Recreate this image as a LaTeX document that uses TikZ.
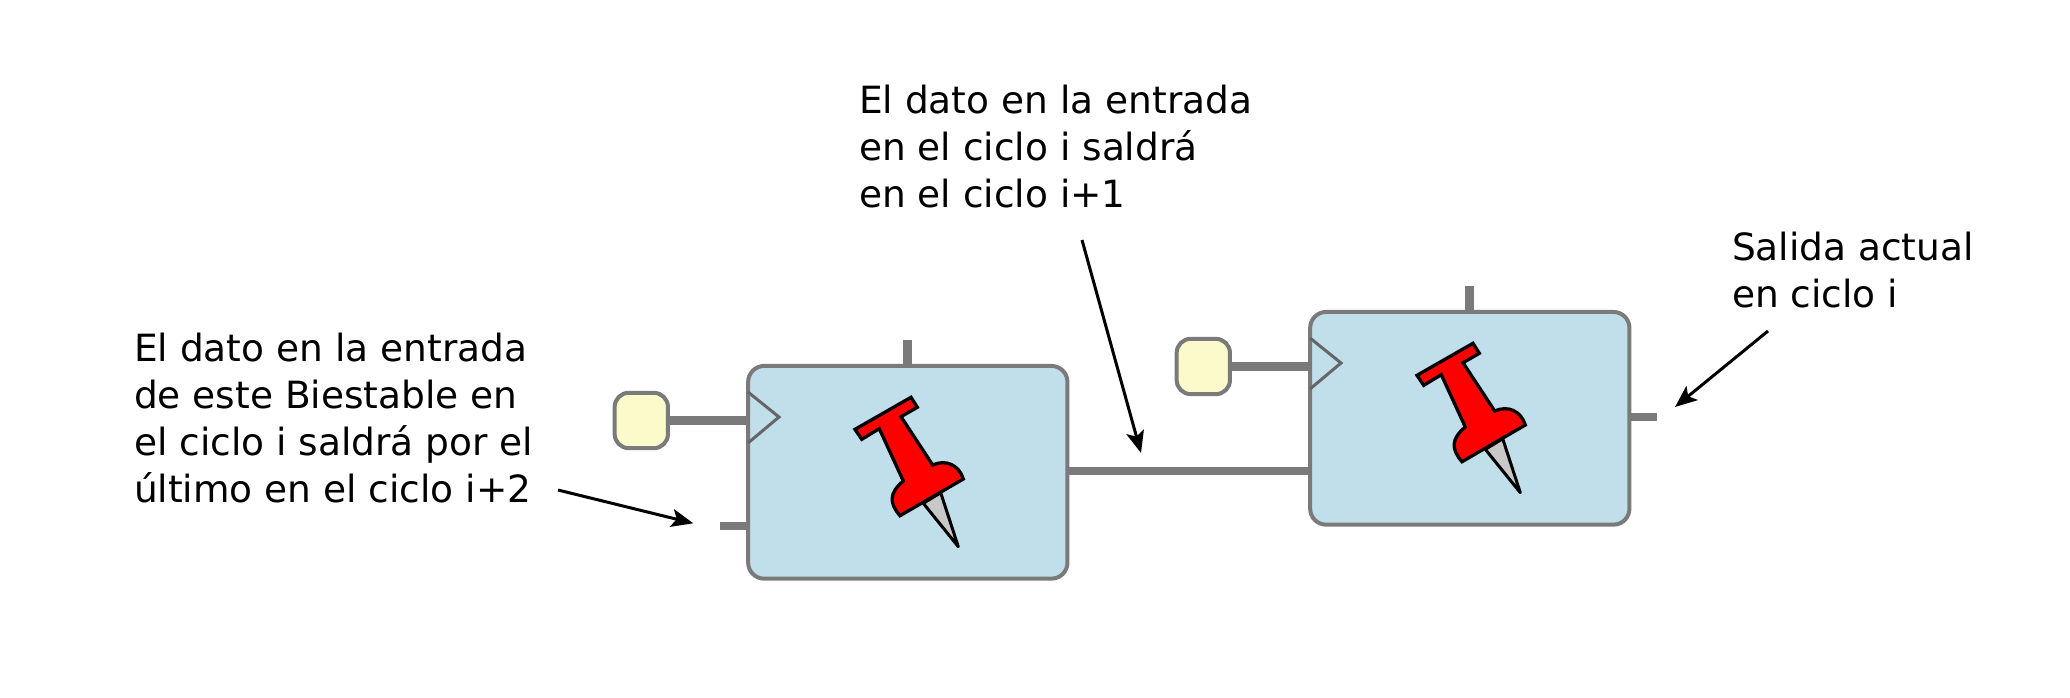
\documentclass[tikz,border=0pt]{standalone}
\usepackage{fontspec}
\setmainfont{DejaVu Sans}
\usetikzlibrary{arrows.meta}
\definecolor{wiregray}{HTML}{7A7A7A}
\definecolor{boxblue}{HTML}{C1DFEB}
\definecolor{padyellow}{HTML}{FBFACA}
\definecolor{pinred}{HTML}{FF0000}
\definecolor{needlegray}{HTML}{C8C8C8}
\definecolor{clockgray}{HTML}{666666}
\tikzset{
  regbox/.style={draw=wiregray,fill=boxblue,line width=4pt,rounded corners=16pt,minimum width=319.3pt,minimum height=212.7pt,outer sep=0pt,inner sep=0pt},
  padbox/.style={draw=wiregray,fill=padyellow,line width=4pt,rounded corners=14pt,minimum width=53.3pt,minimum height=55.3pt,outer sep=0pt,inner sep=0pt},
  wire/.style={draw=wiregray,line width=8.7pt},
  clockmark/.style={draw=clockgray,line width=3pt,line join=miter},
  note/.style={align=left,anchor=north west,inner sep=0pt,outer sep=0pt,font=\fontsize{37.5pt}{47pt}\selectfont},
  callout/.style={draw=black,line width=3pt,-{Stealth[length=22pt,width=18pt,inset=5pt]}},
  pinhead/.style={draw=black,fill=pinred,line width=3.3pt,line join=miter},
  pinneedle/.style={draw=black,fill=needlegray,line width=3pt,line join=round},
  pics/thumbtack/.style={code={
    \path[pinneedle] (923.3,503.3) -- (958.3,546.7) -- (940.7,492.7) -- cycle;
    \path[pinhead] (855,429.3) -- (911,397.3) -- (917.3,407.3) -- (901,416.7) -- (932.7,465)
      .. controls (946,459) and (959,465) .. (963.3,479) -- (900,515.7)
      .. controls (889,503) and (889,493) .. (903.3,481) -- (879.3,428.7) -- (861.7,439.3) -- cycle;
  }}
}
\begin{document}
\begin{tikzpicture}[x=1pt,y=-1pt]
\useasboundingbox (0,0) rectangle (2070,697);
\node[regbox] (regA) at (907.8,472.3) {};
\node[regbox] (regB) at (1469.8,418.3) {};
\node[padbox] (padA) at (641.3,420.5) {};
\node[padbox] (padB) at (1203.3,366.5) {};
\coordinate (stubA) at (720,526);
\coordinate (stubBout) at (1657,417);
\coordinate (topA) at (907.8,340);
\coordinate (topB) at (1469.8,286);
\coordinate (wireAB) at (1068,471);
\coordinate (clkAtop) at (748,392);
\coordinate (clkAtip) at (779,417);
\coordinate (clkAbot) at (748,443);
\coordinate (clkBtop) at (1310,338);
\coordinate (clkBtip) at (1341,363);
\coordinate (clkBbot) at (1310,389);
\draw[wire] (padA.east) -- (padA.east -| regA.west);
\draw[wire] (padB.east) -- (padB.east -| regB.west);
\draw[wire] (wireAB) -- (wireAB -| regB.west);
\draw[wire] (stubA) -- (stubA -| regA.west);
\draw[wire] (stubBout -| regB.east) -- (stubBout);
\draw[wire] (topA) -- (regA.north);
\draw[wire] (topB) -- (regB.north);
\draw[clockmark] (clkAtop) -- (clkAtip) -- (clkAbot);
\draw[clockmark] (clkBtop) -- (clkBtip) -- (clkBbot);
\pic {thumbtack};
\pic[shift={(562,-54)}] {thumbtack};
\node[note] (noteA) at (134,333) {El dato en la entrada\\de este Biestable en\\el ciclo i saldrá por el\\último en el ciclo i+2};
\node[note] (noteB) at (859,85.5) {El dato en la entrada\\en el ciclo i saldrá\\en el ciclo i+1};
\node[note] (noteC) at (1732,232) {Salida actual\\en ciclo i};
\coordinate (fromA) at (558,490);
\coordinate (toA) at (693.3,523.3);
\coordinate (fromB) at (1082,240);
\coordinate (toB) at (1141,453);
\coordinate (fromC) at (1768,331);
\coordinate (toC) at (1675,407);
\draw[callout] (fromA) -- (toA);
\draw[callout] (fromB) -- (toB);
\draw[callout] (fromC) -- (toC);
\end{tikzpicture}
\end{document}
